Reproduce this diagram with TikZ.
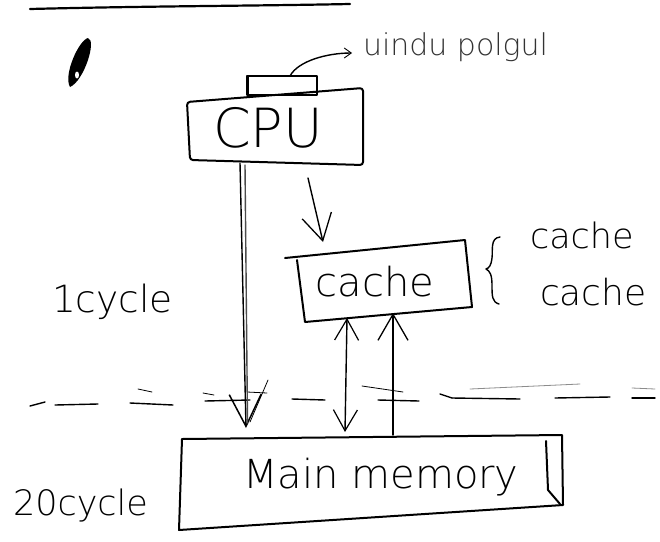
\documentclass[tikz,border=0pt]{standalone}
\usepackage{fontspec}
\setmainfont{DejaVu Sans ExtraLight}
\usetikzlibrary{arrows.meta,calc}
\newcommand\handsize[1]{\fontsize{#1}{#1}\selectfont}

\begin{document}
\begin{tikzpicture}[x=1pt,y=-1pt,
  ink/.style={line width=2pt,line cap=round,line join=round},
  pen/.style={line width=1.4pt,line cap=round,line join=round},
  hair/.style={line width=0.8pt,line cap=round},
  boxnode/.style={inner sep=0pt,outer sep=0pt},
  word/.style={anchor=base west,inner sep=0pt,outer sep=0pt},
  bighead/.style={-{Straight Barb[length=32pt,width=32pt,line width=1.5pt]}},
  midhead/.style={-{Straight Barb[length=26pt,width=30pt,line width=1.3pt]}},
  bothheads/.style={{Straight Barb[length=21pt,width=24pt,line width=1.2pt]}-{Straight Barb[length=21pt,width=24pt,line width=1.2pt]}},
  tinyhead/.style={-{Straight Barb[length=7pt,width=10pt,line width=0.9pt]}},
]
\useasboundingbox (0,0) rectangle (660,541);
\fill[white] (0,0) rectangle (660,541);

% heading rule and pen mark
\draw[line width=2.2pt,line cap=round] (30,9) .. controls (150,6) and (250,6) .. (350,4);
\fill (70,87) .. controls (63,75) and (79,40) .. (88,38) .. controls (97,40) and (84,81) .. (70,87);
\fill[white] (77,75) ellipse [x radius=2, y radius=3.5];

% CPU with its small block on top
\node[boxnode,minimum width=176pt,minimum height=66pt] (cpu) at (275,128) {\handsize{54}CPU\hspace*{14pt}};
\draw[ink,rounded corners=3pt] ([yshift=-7pt]cpu.north west) -- ([yshift=7pt]cpu.north east)
  -- ([yshift=-4pt]cpu.south east) -- ([xshift=3pt,yshift=1pt]cpu.south west) -- cycle;
\node[boxnode,draw,ink,minimum width=70pt,minimum height=19pt] (reg) at (282,85.5) {};
\draw[line width=3pt] (reg.north west) -- (reg.south west);
\node[word,text=black!80] (lbl) at (363,55) {\handsize{30}uindu polgul};
\draw[pen,tinyhead] ($(reg.north)+(8,0)$) .. controls +(8,-15) and +(-25,0) .. ($(lbl.base west)+(-11,-2)$);

% cache
\node[boxnode,minimum width=172pt,minimum height=64pt] (cache) at (384,282) {\handsize{40}cache\hspace*{18pt}};
\draw[ink] ([xshift=-13pt,yshift=-8pt]cache.north west) -- ([xshift=-5pt,yshift=10pt]cache.north east)
  -- ([xshift=2pt,yshift=7pt]cache.south east) -- ([xshift=7pt,yshift=-8pt]cache.south west)
  -- ([xshift=-1pt,yshift=-10pt]cache.north west);
\draw[pen] (500,237) .. controls (490,238) and (493,250) .. (492,258)
  .. controls (491,266) and (489,268) .. (486,269)
  .. controls (490,271) and (492,275) .. (492,285)
  .. controls (492,296) and (492,302) .. (499,304);
\node[word] (c1) at (530,248) {\handsize{35}cache};
\node[word] (c2) at (540,305) {\handsize{36}cache};

% main memory
\node[boxnode,minimum width=381pt,minimum height=80pt] (mm) at (371.5,477) {\handsize{40}\hspace*{19pt}Main memory};
\draw[ink] ([xshift=1pt,yshift=-2pt]mm.north west) -- ([yshift=2pt]mm.north east)
  -- ([xshift=1pt,yshift=12pt]mm.south east) -- ([xshift=-2pt,yshift=-13pt]mm.south west) -- cycle;
\draw[ink] ([xshift=-16pt,yshift=-4pt]mm.north east) -- ([xshift=-14pt,yshift=27pt]mm.south east)
  -- ([xshift=-2pt,yshift=13pt]mm.south east);

% cycle costs
\node[word] (one) at (52,312) {\handsize{37.5}1cycle};
\node[word] (twenty) at (13,515) {\handsize{35}20cycle};

% level boundary, drawn as loose dashes
\foreach \a/\b in {{30,406}/{45,402},{55,405}/{98,404},{130,403}/{173,405},{205,401}/{250,400},
  {292,399}/{325,400},{378,400}/{419,401},{452,398}/{520,399},{555,398}/{610,397},{632,398}/{655,398}}
  \draw[pen] (\a) -- (\b);
\draw[pen] (440,394) -- (452,398);
\foreach \a/\b in {{138,389}/{152,392},{203,393}/{214,395},{247,392}/{267,393},{362,386}/{403,392}}
  \draw[hair] (\a) -- (\b);
\draw[hair,black!45] (470,389) -- (580,384);
\draw[hair,black!45] (632,388) -- (655,389);

% connectors
\draw[pen,bighead] ($(cpu.south)+(-35,2)$) -- ($(mm.north)+(-125.5,-9)$);
\draw[pen,black!70] ($(cpu.south)+(-30,4)$) -- ($(mm.north)+(-124,-14)$);
\draw[hair] (268,380) -- (250,422);
\coordinate (feed) at (308,178);
\draw[pen,midhead] (feed) -- ($(cache.north)+(-61,-8)$);
\draw[pen,bothheads] ($(cache.south)+(-37,4)$) -- ($(mm.north)+(-26.5,-5)$);
\draw[pen,midhead] ($(mm.north)+(21.5,-2)$) -- ($(cache.south)+(9,-1)$);
\end{tikzpicture}
\end{document}
